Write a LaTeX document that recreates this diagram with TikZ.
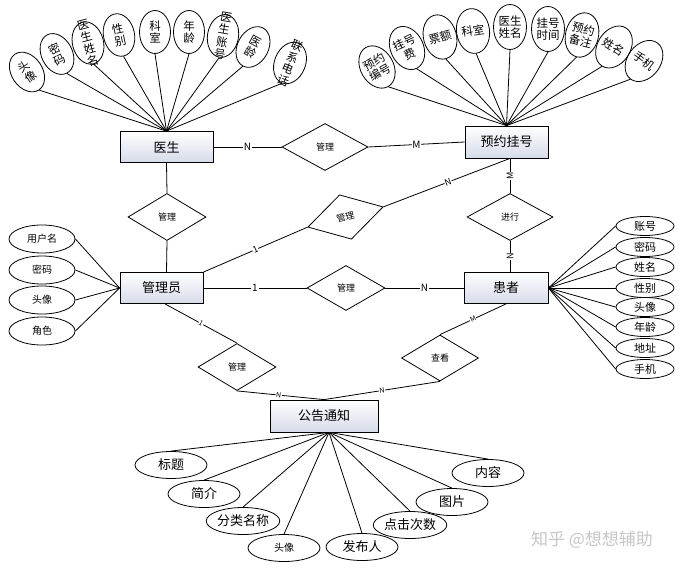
\documentclass[tikz,border=0pt]{standalone}
\usepackage{fontspec}
\setmainfont{Noto Sans CJK SC}
\usetikzlibrary{shapes.geometric}
\definecolor{entfill}{RGB}{214,219,234}
\begin{document}
\begin{tikzpicture}[x=1pt,y=-1pt,line width=0.8pt,
  entity/.style={draw,rectangle,inner sep=0pt,minimum height=31pt,
    top color=white,bottom color=entfill,font=\fontsize{13}{13}\selectfont},
  rel/.style={draw,diamond,inner sep=0pt,minimum width=78pt,minimum height=47pt,
    fill=white,font=\fontsize{9}{9}\selectfont},
  dattr/.style={draw,ellipse,inner sep=0pt,minimum width=31pt,minimum height=43pt},
  aattr/.style={draw,ellipse,inner sep=0pt,minimum width=33pt,minimum height=45pt},
  vtext/.style={align=center,inner sep=0pt,font=\fontsize{11.5}{12.5}\selectfont},
  mattr/.style={draw,ellipse,inner sep=0pt,minimum width=66pt,minimum height=28pt,
    font=\fontsize{10}{10}\selectfont},
  pattr/.style={draw,ellipse,inner sep=0pt,minimum width=58pt,minimum height=19pt,
    font=\fontsize{11}{11}\selectfont},
  nattr/.style={draw,ellipse,inner sep=0pt,minimum width=72pt,minimum height=27pt,
    font=\fontsize{13}{13}\selectfont},
  elab/.style={fill=white,inner sep=0.8pt,font=\fontsize{10}{10}\selectfont},
  slab/.style={fill=white,inner sep=0.5pt,sloped,font=\fontsize{8}{8}\selectfont},
  vlab/.style={fill=white,inner sep=0.5pt,rotate=90,font=\fontsize{9}{9}\selectfont}
]
\useasboundingbox (0,0) rectangle (684,567);
\fill[white] (0,0) rectangle (684,567);

% entities
\node[entity,minimum width=93pt] (doc) at (166.5,147) {医生};
\node[entity,minimum width=83pt,minimum height=32pt] (appt) at (506.5,142) {预约挂号};
\node[entity,minimum width=83pt] (admin) at (161.5,288) {管理员};
\node[entity,minimum width=84pt] (pat) at (506,288) {患者};
\node[entity,minimum width=108pt,minimum height=32pt] (notice) at (324,416) {公告通知};

% relationships
\node[rel,minimum width=86pt] (m1) at (325,147) {管理};
\node[rel] (m2) at (167,217) {管理};
\node[rel,minimum height=46pt,rotate=15] (m3) at (345.5,217) {管理};
\node[rel] (m4) at (237,367) {管理};
\node[rel,minimum height=45pt] (m6) at (346,288) {管理};
\node[rel,minimum width=86pt] (m7) at (510,217) {进行};
\node[rel,minimum width=77pt,minimum height=46pt] (m5) at (440,358) {查看};

\coordinate (apptb) at ([xshift=3.5pt]appt.south);
\coordinate (patt) at ([xshift=4pt]pat.north);
\coordinate (admt) at ([xshift=5pt]admin.north);
\coordinate (admb) at ([xshift=3.5pt]admin.south);

% connectors
\draw (doc.east) -- node[elab]{N} (m1.west);
\draw (m1.east) -- node[elab]{M} (appt.west);
\draw (doc.south) -- (m2.north);
\draw (m2.south) -- (admt);
\draw (admin.north east) -- node[slab,font=\fontsize{9}{9}\selectfont]{1} (m3.west);
\draw (m3.east) -- node[slab,pos=0.51,font=\fontsize{9}{9}\selectfont]{N} (apptb);
\draw (apptb) -- node[vlab]{M} (m7.north);
\draw (m7.south) -- node[vlab]{N} (patt);
\draw (admin.east) -- node[elab]{1} (m6.west);
\draw (m6.east) -- node[elab]{N} (pat.west);
\draw (admb) -- node[slab,font=\fontsize{7}{7}\selectfont]{1} (m4.north);
\draw (m4.south) -- node[slab,pos=0.48,font=\fontsize{7}{7}\selectfont]{N} (notice.north);
\draw (pat.south) -- node[slab,font=\fontsize{7}{7}\selectfont]{M} (m5.north);
\draw (m5.south) -- node[slab,font=\fontsize{7}{7}\selectfont]{N} (notice.north);

% doctor attributes
\foreach \i/\x/\y/\rot/\txt in {
  1/27/72/34/{头\\像},
  2/57/54/27/{密\\码},
  3/88/43/15/{医\\生\\姓\\名},
  4/119/35/12/{性\\别},
  5/155/32/0/{科\\室},
  6/189/32/0/{年\\龄},
  7/223/36/-10/{医\\生\\账\\号},
  8/253/47/-28/{医\\龄},
  9/290/63/-22/{联\\系\\电\\话}}{
  \node[dattr,rotate=\rot] (d\i) at (\x,\y) {};
  \node[vtext,rotate=\rot] (dt\i) at (d\i.center) {\txt};
  \draw (doc.north) -- (d\i.south);
}

% appointment attributes
\foreach \i/\x/\y/\rot/\txt in {
  1/377/67/30/{预约\\编号},
  2/407/48/25/{挂号\\费},
  3/440/37/15/{票额},
  4/473/31/8/{科室},
  5/510/27/0/{医生\\姓名},
  6/548/29/0/{挂号\\时间},
  7/582/35/-14/{预约\\备注},
  8/614/47/-32/{姓名},
  9/644/61/-37/{手机}}{
  \node[aattr,rotate=\rot] (a\i) at (\x,\y) {};
  \node[vtext,rotate=\rot] (at\i) at (a\i.center) {\txt};
  \draw (appt.north) -- (a\i.south);
}

% admin attributes
\foreach \i/\y/\txt in {1/239/用户名,2/270/密码,3/300/头像,4/331/角色}{
  \node[mattr] (g\i) at (42,\y) {\txt};
  \draw (g\i.east) -- (admin.west);
}

% patient attributes
\foreach \i/\y/\txt in {1/226/账号,2/247/密码,3/267/姓名,4/288/性别,5/307/头像,6/327/年龄,7/348/地址,8/369/手机}{
  \node[pattr] (p\i) at (645,\y) {\txt};
  \draw (p\i.west) -- (pat.east);
}

% notice attributes
\coordinate (nconv) at ([xshift=5pt]notice.south);
\foreach \i/\x/\y/\txt in {1/171/465/标题,2/204/494/简介,3/243/521/分类名称,5/362/547/发布人,6/410/525/点击次数,7/452/502/图片,8/488/473/内容}{
  \node[nattr] (n\i) at (\x,\y) {\txt};
  \draw (nconv) -- (n\i.north);
}
\node[nattr,font=\fontsize{10}{10}\selectfont] (n4) at (284,548) {头像};
\draw (nconv) -- (n4.north);

% watermark
\node[text=black!22,font=\fontsize{17}{17}\selectfont,inner sep=0pt] (wm) at (592,540) {知乎 @想想辅助};
\end{tikzpicture}
\end{document}
